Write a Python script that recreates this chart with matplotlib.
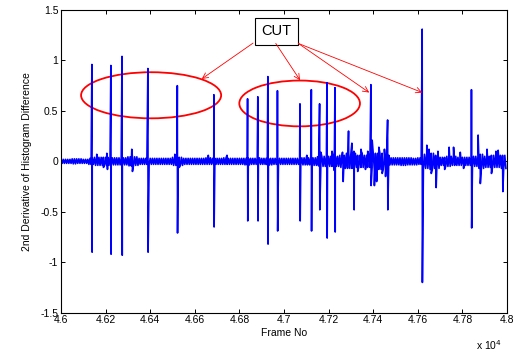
import numpy as np
import matplotlib
matplotlib.use('Agg')
import matplotlib.pyplot as plt
from matplotlib.patches import Ellipse

plt.rcParams['font.family'] = ['Liberation Sans', 'DejaVu Sans']

# background noise band, bins of 25 frames from 46000
bin_start = 46000
bin_width = 25
band_hi = [0.02, 0.02, 0.025, 0.025, 0.02, 0.03, 0.04, 0.04, 0.04, 0.035,
           0.035, 0.035, 0.045, 0.045, 0.03, 0.03, 0.03, 0.03, 0.03, 0.03,
           0.04, 0.04, 0.03, 0.03, 0.03, 0.03, 0.035, 0.03, 0.03, 0.035,
           0.03, 0.03, 0.03, 0.03, 0.03, 0.035, 0.03, 0.03, 0.03, 0.03,
           0.03, 0.03, 0.03, 0.035, 0.035, 0.035, 0.045, 0.05, 0.05, 0.05,
           0.06, 0.08, 0.08, 0.06, 0.06, 0.06, 0.08, 0.08, 0.06, 0.035,
           0.035, 0.035, 0.035, 0.03, 0.035, 0.07, 0.08, 0.06, 0.04, 0.05,
           0.05, 0.04, 0.04, 0.04, 0.05, 0.07, 0.05, 0.06, 0.06, 0.06]
band_lo = [-0.02, -0.02, -0.025, -0.02, -0.02, -0.03, -0.04, -0.04, -0.04, -0.035,
           -0.035, -0.035, -0.045, -0.04, -0.03, -0.03, -0.03, -0.03, -0.03, -0.03,
           -0.04, -0.04, -0.03, -0.03, -0.03, -0.03, -0.03, -0.03, -0.03, -0.03,
           -0.03, -0.03, -0.03, -0.035, -0.03, -0.03, -0.03, -0.035, -0.03, -0.03,
           -0.03, -0.03, -0.03, -0.035, -0.035, -0.04, -0.045, -0.05, -0.05, -0.05,
           -0.06, -0.07, -0.07, -0.06, -0.06, -0.06, -0.08, -0.08, -0.06, -0.035,
           -0.035, -0.04, -0.035, -0.035, -0.03, -0.07, -0.08, -0.07, -0.04, -0.05,
           -0.04, -0.04, -0.04, -0.04, -0.05, -0.07, -0.06, -0.06, -0.06, -0.07]

# isolated noise peaks
peak_frame = [46160, 46190, 46205, 46208, 46317, 46320, 46510, 46530, 46660, 46744,
              47102, 47165, 47190, 47215, 47225, 47262, 47265, 47289, 47304, 47330,
              47345, 47350, 47365, 47375, 47395, 47405, 47415, 47425, 47440, 47450,
              47455, 47640, 47650, 47660, 47682, 47690, 47720, 47740, 47760, 47790,
              47805, 47870, 47880, 47910, 47930, 47950, 47960, 47981]
peak_val = [0.07, -0.06, 0.08, -0.08, 0.12, -0.10, 0.07, -0.06, 0.06, 0.06,
            0.06, 0.09, 0.09, 0.10, -0.09, 0.09, -0.20, 0.30, 0.18, -0.10,
            0.12, 0.08, -0.08, 0.10, 0.21, -0.24, -0.20, 0.14, -0.12, 0.12,
            -0.15, 0.16, 0.12, -0.12, -0.26, 0.10, -0.08, 0.14, 0.14, 0.09,
            -0.07, 0.26, -0.22, 0.12, -0.12, 0.10, 0.11, -0.30]

# spikes (cuts)
spike_frame = [46139, 46224, 46274, 46390, 46522, 46686, 46837, 46883, 46928, 46971,
               47072, 47123, 47160, 47193, 47229, 47314, 47390, 47465, 47620, 47841]
spike_up = [0.96, 0.95, 1.04, 0.92, 0.75, 0.66, 0.62, 0.64, 0.84, 0.70,
            0.57, 0.71, 0.57, 0.78, 0.73, 0.10, 0.76, 0.41, 1.31, 0.71]
spike_down = [-0.90, -0.92, -0.93, -0.90, -0.71, -0.65, -0.59, -0.59, -0.82, -0.69,
              -0.59, -0.69, -0.48, -0.76, -0.70, -0.48, -0.24, -0.48, -1.20, -0.66]

# build the trace
xs, ys = [], []
n = 0
for i in range(len(band_hi)):
    b = bin_start + i * bin_width
    for k in range(5):
        xs.append(b + k * 5)
        ys.append(band_hi[i] if n % 2 == 0 else band_lo[i])
        n += 1
for f, v in zip(peak_frame, peak_val):
    xs.append(f + 0.3)
    ys.append(v)
for f, u, d in zip(spike_frame, spike_up, spike_down):
    xs += [f - 0.5, f + 0.5]
    ys += [u, d]
order = np.argsort(xs, kind='stable')
xs = np.array(xs)[order]
ys = np.array(ys)[order]

fig = plt.figure(figsize=(5.18, 3.54), dpi=100)
ax = fig.add_axes([0.1178, 0.1167, 0.861, 0.855])
ax.plot(xs, ys, color='#0000ff', lw=1.2)

ax.set_xlim(46000, 48000)
ax.set_ylim(-1.5, 1.5)
xt = np.arange(46000, 48001, 200)
ax.set_xticks(xt)
ax.set_xticklabels(['%g' % (v / 1e4) for v in xt])
yt = [-1.5, -1, -0.5, 0, 0.5, 1, 1.5]
ax.set_yticks(yt)
ax.set_yticklabels(['%g' % v for v in yt])
ax.tick_params(direction='in', top=True, right=True, length=3, width=0.7,
               labelsize=7.5, pad=2)
for s in ax.spines.values():
    s.set_linewidth(0.8)
ax.set_xlabel('Frame No', fontsize=7.5, labelpad=2)
ax.set_ylabel('2nd Derivative of Histogram Difference', fontsize=7.5, labelpad=6)
fig.text(0.918, 0.012, r'x 10$^4$', fontsize=7.5)

# annotations
ax.add_patch(Ellipse((46404, 0.655), 628, 0.457, fill=False, ec='red', lw=1.3))
ax.add_patch(Ellipse((47070, 0.574), 541, 0.454, fill=False, ec='red', lw=1.3))
ax.text(46967, 1.29, 'CUT', fontsize=10.5, ha='center', va='center',
        bbox=dict(boxstyle='square,pad=0.45', fc='white', ec='black', lw=0.8))
arrows = [((46861, 1.172), (46631, 0.817)),
          ((46963, 1.169), (47072, 0.804)),
          ((47064, 1.169), (47382, 0.682)),
          ((47064, 1.169), (47620, 0.682))]
for start, end in arrows:
    ax.annotate('', xy=end, xytext=start,
                arrowprops=dict(arrowstyle='->', color='red', lw=0.6,
                                shrinkA=0, shrinkB=0))

fig.savefig('out.png', dpi=100)
